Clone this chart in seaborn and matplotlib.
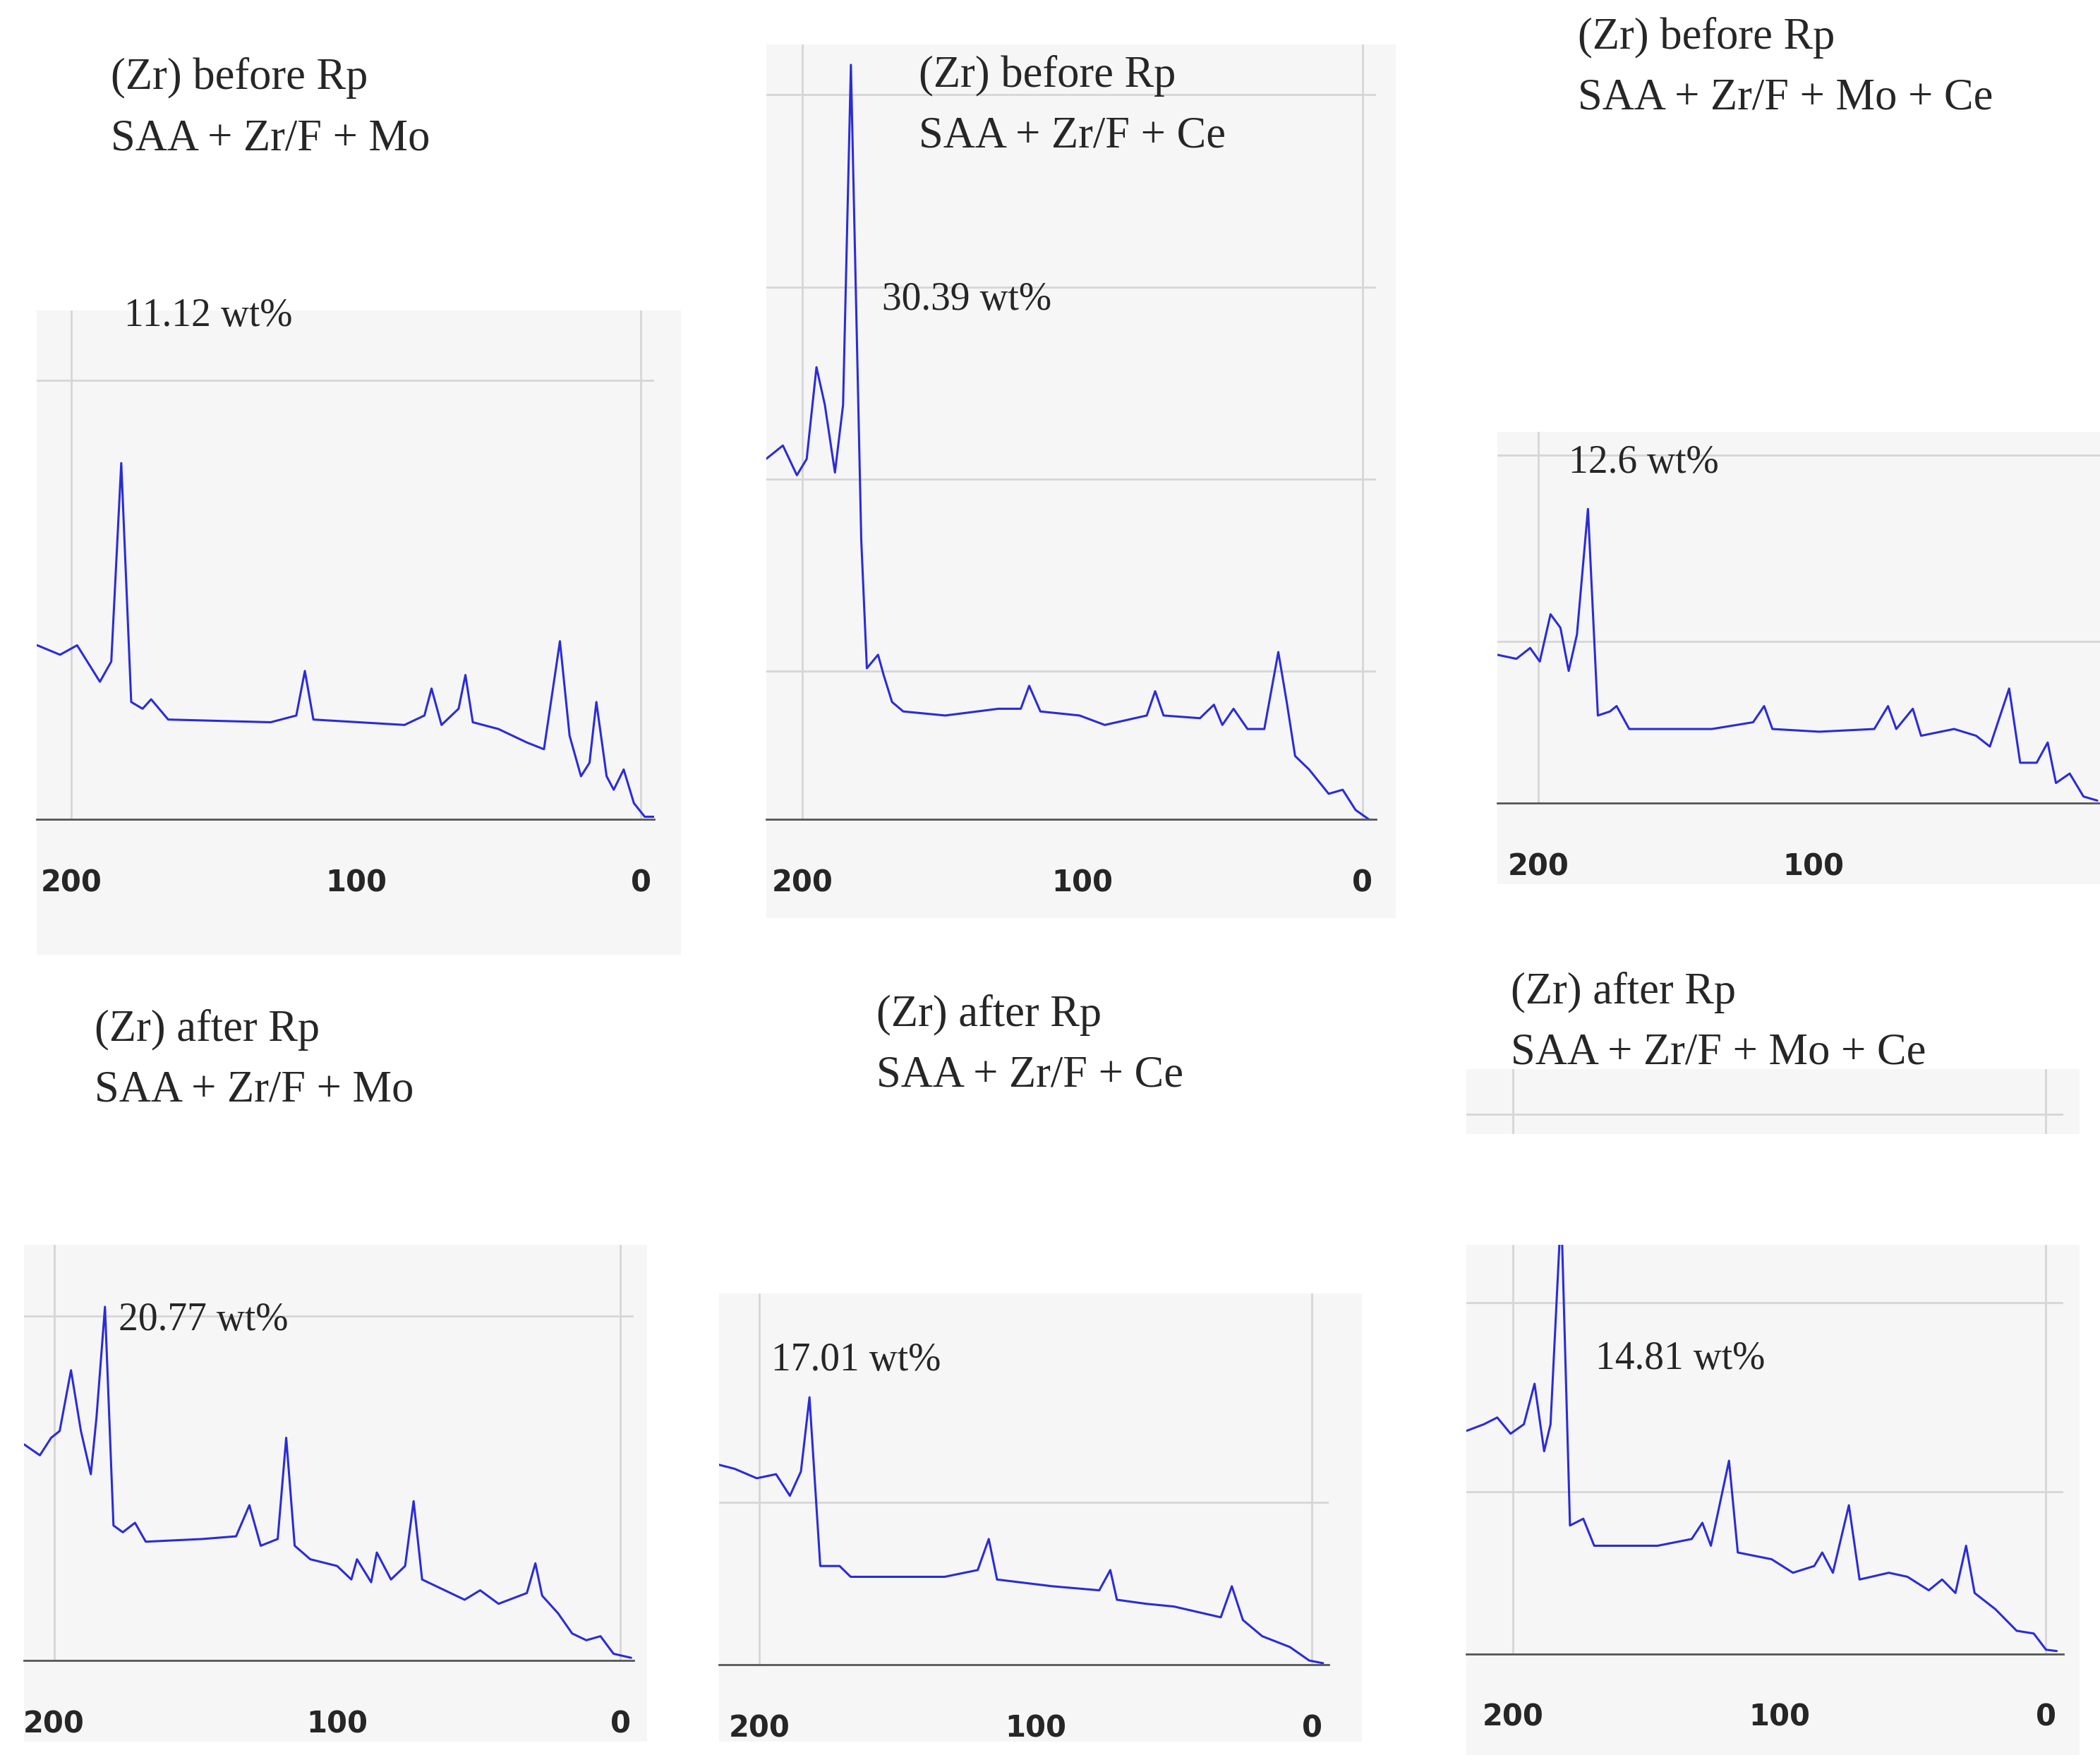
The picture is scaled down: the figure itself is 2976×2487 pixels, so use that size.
import seaborn as sns
import pandas as pd
import matplotlib.pyplot as plt
from matplotlib.patches import Rectangle

# ---- data: binding energy-ish x axis (200..0), signal in arbitrary units ----
x_tl = [212, 204, 198, 190, 186, 182.5, 179, 175, 172, 166, 130, 121, 118, 115, 83, 76, 73.5, 70, 64, 61.6, 59, 50, 40, 34,
        28.4, 25, 21, 18, 15.6, 12, 9.5, 6, 2.4, -1.4, -4.7]
y_tl = [129, 122, 129, 102, 117, 264, 87, 82, 89, 74, 72, 77, 110, 74, 70, 77, 97, 70, 82, 107, 72, 67, 57, 52,
        132, 62, 32, 42, 87, 32, 22, 37, 12, 2, 2]

x_tm = [213, 207, 202, 198.5, 195, 192, 188.4, 185.5, 182.7, 179, 177, 173, 171, 168, 164, 149, 130, 122, 119, 115, 101, 92,
        77, 74, 71, 58, 53, 50, 46, 41, 35, 30, 27, 24, 19, 12, 7, 2.4, -2.4]
y_tm = [267, 277, 255, 267, 335, 307, 257, 307, 559, 207, 112, 122, 107, 87, 80, 77, 82, 82, 99, 80, 77, 70,
        77, 95, 77, 75, 85, 70, 82, 67, 67, 124, 87, 47, 37, 19, 22, 7, 0]

x_tr = [215, 208, 203, 199.5, 195.6, 192, 189, 186, 182, 178.4, 174, 171.6, 167, 137, 122, 118, 115, 98, 78, 73, 70, 64, 61,
        49, 41, 36, 29, 25, 19, 15, 12, 7, 2, -3]
y_tr = [110, 107, 115, 105, 140, 130, 98, 125, 218, 65, 68, 72, 55, 55, 60, 72, 55, 53, 55, 72, 55, 70, 50,
        55, 50, 42, 85, 30, 30, 45, 15, 22, 5, 2]

x_bl = [210.5, 205, 201, 198, 194, 190.5, 187, 185, 182, 179, 175.7, 171.4, 167.6, 147.6, 135.7, 131, 127, 121, 118, 115,
        109.5, 100, 95, 93, 88, 86, 81, 76, 73, 70, 62, 55, 49.5, 43, 33, 30, 27.6, 22, 17, 12, 7, 2.4, -3.8]
y_bl = [160, 152, 165, 170, 215, 170, 138, 180, 262, 100, 95, 102, 88, 90, 92, 115, 85, 90, 165, 85,
        75, 70, 60, 75, 58, 80, 60, 70, 118, 60, 52, 45, 52, 42, 50, 72, 48, 35, 20, 15, 18, 5, 2]

x_bm = [214.7, 209, 201, 194, 189, 185, 181.9, 178, 174.6, 171, 167, 133, 121, 117, 114, 94, 77, 73, 70.6, 60, 50, 33, 29,
        25, 18, 8, 1, -4]
y_bm = [148, 145, 138, 141, 125, 143, 198, 73, 73, 73, 65, 65, 70, 93, 63, 58, 55, 70, 48, 45, 43, 35, 58,
        33, 21, 13, 3, 1]

x_br = [217.7, 211, 206, 201, 196, 192, 188.4, 186, 182, 178.7, 173.7, 169.6, 145.8, 133, 129, 125.8, 119, 115.7, 103, 95,
        87, 84, 80, 74, 70, 59, 52, 44, 39, 34, 30, 26.8, 19, 11, 4.6, 0, -4]
y_br = [165, 170, 175, 163, 170, 200, 150, 170, 330, 95, 100, 80, 80, 85, 97, 80, 143, 75, 70, 60,
        65, 75, 60, 110, 55, 60, 57, 47, 55, 45, 80, 45, 33, 17, 15, 3, 2]

titles = [("(Zr) before Rp", "SAA + Zr/F + Mo"), ("(Zr) before Rp", "SAA + Zr/F + Ce"),
          ("(Zr) before Rp", "SAA + Zr/F + Mo + Ce"), ("(Zr) after Rp", "SAA + Zr/F + Mo"),
          ("(Zr) after Rp", "SAA + Zr/F + Ce"), ("(Zr) after Rp", "SAA + Zr/F + Mo + Ce")]
wt_labels = ["11.12 wt%", "30.39 wt%", "12.6 wt%", "20.77 wt%", "17.01 wt%", "14.81 wt%"]
tick_vals = [200, 100, 0]

W, H = 1557.0, 1300.0
sns.set_style("white")
fig = plt.figure(figsize=(29.76, 24.87), dpi=100)


def fx(px):
    return px / W


def fy(py):
    return 1 - py / H


def gray_box(l, r, b, t):
    fig.patches.append(Rectangle((fx(l), fy(b)), fx(r) - fx(l), fy(t) - fy(b), transform=fig.transFigure,
                                 facecolor="#f6f6f6", edgecolor="none", zorder=-5))


# layout in reference pixel space: axes box (left, right, axis_y, top), gray bg box, title pos, label pos
panels = [
    dict(x=x_tl, y=y_tl, ax=(27, 485, 607, 230), bg=(27, 505, 707, 230), t=(82, 58), lab=(92, 234),
         xlim=(212.3, -4.7), ytop=377, hgrid=[325], tick0=True),
    dict(x=x_tm, y=y_tm, ax=(568, 1020, 607, 33), bg=(568, 1035, 680, 33), t=(681, 56), lab=(654, 222),
         xlim=(213, -4.8), ytop=574, hgrid=[110, 252, 394, 537], tick0=True),
    dict(x=x_tr, y=y_tr, ax=(1110, 1557, 595, 320), bg=(1110, 1557, 655, 320), t=(1170, 28), lab=(1163, 343),
         xlim=(215, -4), ytop=275, hgrid=[120, 258], tick0=False),
    dict(x=x_bl, y=y_bl, ax=(18, 470, 1230, 922), bg=(18, 480, 1290, 922), t=(70, 763), lab=(88, 978),
         xlim=(210.5, -4.8), ytop=308, hgrid=[255], tick0=True),
    dict(x=x_bm, y=y_bm, ax=(533, 985, 1233, 958), bg=(533, 1010, 1290, 958), t=(650, 752), lab=(572, 1008),
         xlim=(214.7, -6), ytop=275, hgrid=[120], tick0=True),
    dict(x=x_br, y=y_br, ax=(1087, 1530, 1225, 922), bg=(1087, 1542, 1300, 922), t=(1120, 735), lab=(1183, 1007),
         xlim=(217.7, -6.6), ytop=303, hgrid=[120, 260], tick0=True),
]

for i, p in enumerate(panels):
    gray_box(*p["bg"])
    l, r, b, t = p["ax"]
    ax = fig.add_axes([fx(l), fy(b), fx(r) - fx(l), fy(t) - fy(b)])
    ax.set_facecolor("none")
    df = pd.DataFrame({"x": p["x"], "y": p["y"]})
    sns.lineplot(data=df, x="x", y="y", ax=ax, color="#2b2bdb", linewidth=2.2, sort=False)
    ax.set_xlim(*p["xlim"])
    ax.set_ylim(0, p["ytop"])
    for g in p["hgrid"]:
        ax.axhline(g, color="#d6d6d6", lw=2, zorder=0)
    ax.axvline(200, color="#d6d6d6", lw=2, zorder=0)
    if p["tick0"]:
        ax.axvline(0, color="#d6d6d6", lw=2, zorder=0)
    for s in ["top", "left", "right"]:
        ax.spines[s].set_visible(False)
    ax.spines["bottom"].set_color("#555555")
    ax.spines["bottom"].set_linewidth(2)
    ax.set_yticks([])
    ticks = tick_vals if p["tick0"] else tick_vals[:2]
    ax.set_xticks(ticks)
    ax.set_xticklabels([str(v) for v in ticks], fontsize=30, fontweight="bold")
    ax.tick_params(axis="x", direction="out", length=28, width=3, color="#333333", pad=22)
    ax.set_xlabel("")
    ax.set_ylabel("")
    tx, ty = p["t"]
    fig.text(fx(tx), fy(ty), titles[i][0], fontsize=45, family="Liberation Serif", va="center")
    fig.text(fx(tx), fy(ty + 45), titles[i][1], fontsize=45, family="Liberation Serif", va="center")
    lx, ly = p["lab"]
    fig.text(fx(lx), fy(ly), wt_labels[i], fontsize=40, family="Liberation Serif", va="center")

# cut-off strip above the last panel
gray_box(1087, 1542, 840, 792)
strip = fig.add_axes([fx(1087), fy(840), fx(1530) - fx(1087), fy(792) - fy(840)])
strip.set_facecolor("none")
strip.set_xlim(217.7, -6.6)
strip.set_ylim(0, 1)
strip.axhline(0.3, color="#d6d6d6", lw=2)
strip.axvline(200, color="#d6d6d6", lw=2)
strip.axvline(0, color="#d6d6d6", lw=2)
strip.axis("off")

fig.savefig("out.png", dpi=100)
